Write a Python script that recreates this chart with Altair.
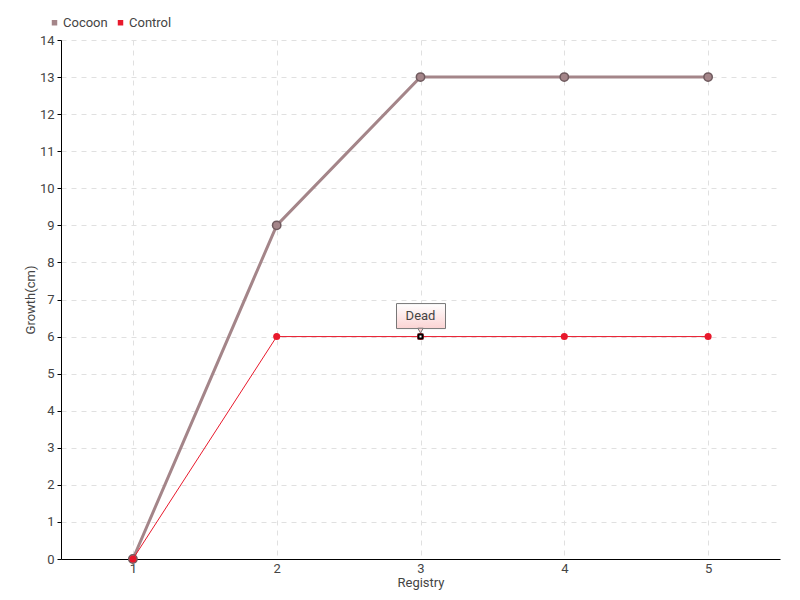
import altair as alt
import pandas as pd

registry = [1, 2, 3, 4, 5]
cocoon = [0, 9, 13, 13, 13]
control = [0, 6, 6, 6, 6]
series_names = ["Cocoon", "Control"]
series_colors = ["#a48589", "#e8192c"]
y_ticks = list(range(0, 15))
note_x = [3]
note_y = [6]
note_text = ["Dead"]

df = pd.DataFrame({
    "Registry": registry * 2,
    "Growth": cocoon + control,
    "Series": ["Cocoon"] * 5 + ["Control"] * 5,
})
note = pd.DataFrame({"Registry": note_x, "Growth": note_y, "text": note_text})

FONT = "Roboto"

xscale = alt.Scale(domain=[0.5, 5.5], nice=False, zero=False)
yscale = alt.Scale(domain=[0, 14], nice=False)

xenc = alt.X("Registry:Q", scale=xscale,
             axis=alt.Axis(values=registry, title="Registry", format="d",
                           grid=True, gridDash=[5, 5], gridColor="#e0e0e0",
                           domainColor="#000", ticks=False,
                           labelPadding=3, titlePadding=1))
yenc = alt.Y("Growth:Q", scale=yscale,
             axis=alt.Axis(values=y_ticks, title="Growth(cm)", format="d",
                           grid=True, gridDash=[5, 5], gridColor="#e0e0e0",
                           domainColor="#000", tickColor="#000", tickSize=4,
                           labelPadding=3, titlePadding=2))
color = alt.Color("Series:N", scale=alt.Scale(domain=series_names, range=series_colors),
                  legend=alt.Legend(orient="none", legendX=-13, legendY=-24,
                                    direction="horizontal", title=None,
                                    symbolType="square", symbolSize=30,
                                    symbolStrokeWidth=0,
                                    labelFontSize=13, labelColor="#444",
                                    labelFont=FONT, columnPadding=6, symbolOffset=0,
                                    labelOffset=2))

coc = df[df.Series == "Cocoon"]
con = df[df.Series == "Control"]

coc_line = alt.Chart(coc).mark_line(strokeWidth=3, color="#a48589").encode(x=xenc, y=yenc)
coc_pts = alt.Chart(coc).mark_circle(size=70, stroke="#6f5a5e",
                                     strokeWidth=1.5, opacity=1).encode(
    x=xenc, y=yenc, color=color)
con_line = alt.Chart(con).mark_line(strokeWidth=1, color="#e8192c").encode(x=xenc, y=yenc)
con_pts = alt.Chart(con).mark_circle(size=50, opacity=1).encode(x=xenc, y=yenc, color=color)

hover_pt = alt.Chart(note).mark_point(shape="square", size=16, fill="white", stroke="#000",
                                      strokeWidth=2, opacity=1, filled=False).encode(x=xenc, y=yenc)

box = alt.Chart(note).mark_rect(
    xOffset=-24, x2Offset=25, yOffset=-33, y2Offset=-8,
    stroke="#777", strokeWidth=1,
    fill={"gradient": "linear", "x1": 0, "y1": 0, "x2": 0, "y2": 1,
          "stops": [{"offset": 0, "color": "#ffffff"}, {"offset": 1, "color": "#fbd3d3"}]},
).encode(x=xenc, x2="Registry:Q", y=yenc, y2="Growth:Q")
pointer = alt.Chart(note).mark_point(shape="triangle-down", size=30, fill="#fbd3d3",
                                     stroke="#777", strokeWidth=1, filled=True,
                                     opacity=1, yOffset=-6).encode(x=xenc, y=yenc)
label = alt.Chart(note).mark_text(dy=-21, fontSize=13, color="#444", font=FONT).encode(
    x=xenc, y=yenc, text="text:N")

chart = alt.layer(coc_line, coc_pts, con_line, con_pts, box, pointer, label, hover_pt).properties(
    width=719, height=519,
    autosize=alt.AutoSizeParams(type="none"),
    padding={"left": 53, "top": 32, "right": 12, "bottom": 36},
).configure_axis(
    labelFont=FONT, titleFont=FONT, labelFontSize=13, titleFontSize=13,
    labelColor="#444", titleColor="#444", titleFontWeight="normal",
).configure_view(stroke=None)

chart.save("out.html", embed_options={"renderer": "svg", "actions": False})
